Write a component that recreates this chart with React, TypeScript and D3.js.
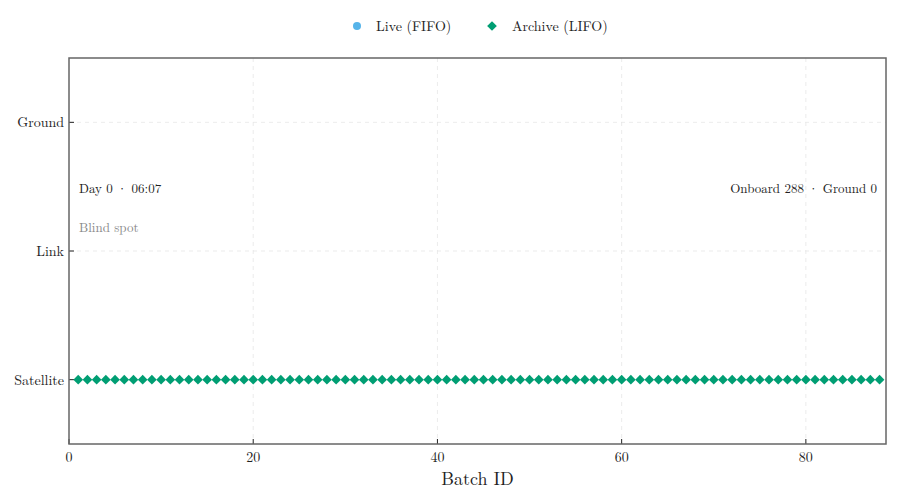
import React, { useEffect, useRef } from 'react';
import * as d3 from 'd3';

// stage categories, bottom to top
const stages = ['Satellite', 'Link', 'Ground'];
const xTicks = [0, 20, 40, 60, 80];

// live (FIFO) batches: none visible in this frame
const liveBatches: number[] = [];
const liveStages: string[] = [];

// archive (LIFO) batches, all still onboard
const archiveBatches = [
    1, 2, 3, 4, 5, 6, 7, 8, 9, 10, 11, 12, 13, 14, 15, 16, 17, 18, 19, 20, 21, 22,
    23, 24, 25, 26, 27, 28, 29, 30, 31, 32, 33, 34, 35, 36, 37, 38, 39, 40, 41, 42, 43, 44,
    45, 46, 47, 48, 49, 50, 51, 52, 53, 54, 55, 56, 57, 58, 59, 60, 61, 62, 63, 64, 65, 66,
    67, 68, 69, 70, 71, 72, 73, 74, 75, 76, 77, 78, 79, 80, 81, 82, 83, 84, 85, 86, 87, 88
];
const archiveStages = archiveBatches.map(() => 'Satellite');

const clockLabel = 'Day 0 · 06:07';
const statusLabel = 'Blind spot';
const countLabel = 'Onboard 288 · Ground 0';

const FONT = '"Latin Modern Roman", "CMU Serif", "Liberation Serif", "DejaVu Serif", serif';
const LIVE_COLOUR = '#56B4E9';
const ARCHIVE_COLOUR = '#009E73';

export default function App() {
    const ref = useRef<SVGSVGElement>(null);

    useEffect(() => {
        const width = 900;
        const height = 500;
        const margin = { top: 58, right: 14, bottom: 56, left: 69 };
        const innerW = width - margin.left - margin.right;
        const innerH = height - margin.top - margin.bottom;

        const svg = d3.select(ref.current);
        svg.selectAll('*').remove();
        svg.attr('font-family', FONT);

        const x = d3.scaleLinear().domain([0, 88.7]).range([0, innerW]);
        const y = d3.scaleLinear().domain([-0.5, stages.length - 0.5]).range([innerH, 0]);
        const yStage = (s: string) => y(stages.indexOf(s));

        const g = svg.append('g').attr('transform', `translate(${margin.left},${margin.top})`);

        // grid
        g.selectAll('.xgrid')
            .data(xTicks.filter(t => t > 0))
            .enter().append('line')
            .attr('x1', d => x(d)).attr('x2', d => x(d))
            .attr('y1', 0).attr('y2', innerH)
            .attr('stroke', '#e6e6e6').attr('stroke-dasharray', '4,4').attr('stroke-width', 0.8);
        g.selectAll('.ygrid')
            .data(stages)
            .enter().append('line')
            .attr('x1', 0).attr('x2', innerW)
            .attr('y1', d => yStage(d)).attr('y2', d => yStage(d))
            .attr('stroke', '#e6e6e6').attr('stroke-dasharray', '4,4').attr('stroke-width', 0.8);

        // inward ticks
        g.selectAll('.xtick')
            .data(xTicks)
            .enter().append('line')
            .attr('x1', d => x(d)).attr('x2', d => x(d))
            .attr('y1', innerH).attr('y2', innerH - 5)
            .attr('stroke', '#222').attr('stroke-width', 1);
        g.selectAll('.ytick')
            .data(stages)
            .enter().append('line')
            .attr('x1', 0).attr('x2', 5)
            .attr('y1', d => yStage(d)).attr('y2', d => yStage(d))
            .attr('stroke', '#222').attr('stroke-width', 1);

        g.selectAll('.xlabel')
            .data(xTicks)
            .enter().append('text')
            .attr('x', d => x(d)).attr('y', innerH + 18)
            .attr('text-anchor', 'middle').attr('font-size', 14).attr('fill', '#222')
            .text(d => d);
        g.selectAll('.ylabel')
            .data(stages)
            .enter().append('text')
            .attr('x', -5).attr('y', d => yStage(d)).attr('dy', '0.35em')
            .attr('text-anchor', 'end').attr('font-size', 14).attr('fill', '#222')
            .text(d => d);

        g.append('text')
            .attr('x', innerW / 2).attr('y', innerH + 41)
            .attr('text-anchor', 'middle').attr('font-size', 18).attr('fill', '#222')
            .text('Batch ID');

        // archive markers
        const diamond = d3.symbol().type(d3.symbolDiamond2).size(60);
        g.selectAll('.archive')
            .data(archiveBatches.map((b, i) => ({ b, s: archiveStages[i] })))
            .enter().append('path')
            .attr('d', diamond)
            .attr('transform', d => `translate(${x(d.b)},${yStage(d.s)})`)
            .attr('fill', ARCHIVE_COLOUR);

        g.selectAll('.live')
            .data(liveBatches.map((b, i) => ({ b, s: liveStages[i] })))
            .enter().append('circle')
            .attr('cx', d => x(d.b)).attr('cy', d => yStage(d.s)).attr('r', 4)
            .attr('fill', LIVE_COLOUR);

        // annotations
        g.append('text').attr('x', 10).attr('y', 135).attr('font-size', 13).attr('fill', '#222').text(clockLabel);
        g.append('text').attr('x', 10).attr('y', 174).attr('font-size', 13).attr('fill', '#888').text(statusLabel);
        g.append('text').attr('x', innerW - 9).attr('y', 135).attr('text-anchor', 'end')
            .attr('font-size', 13).attr('fill', '#222').text(countLabel);

        // frame
        g.append('rect')
            .attr('width', innerW).attr('height', innerH)
            .attr('fill', 'none').attr('stroke', '#666').attr('stroke-width', 1.5);

        // legend
        const legend = svg.append('g').attr('font-size', 14).attr('fill', '#222');
        legend.append('circle').attr('cx', 357).attr('cy', 26).attr('r', 4).attr('fill', LIVE_COLOUR);
        legend.append('text').attr('x', 376).attr('y', 26).attr('dy', '0.35em').text('Live (FIFO)');
        legend.append('path').attr('d', diamond).attr('transform', 'translate(492,26)').attr('fill', ARCHIVE_COLOUR);
        legend.append('text').attr('x', 512).attr('y', 26).attr('dy', '0.35em').text('Archive (LIFO)');
    }, []);

    return <svg ref={ref} width={900} height={500} style={{ display: 'block', margin: -8 }} />;
}
